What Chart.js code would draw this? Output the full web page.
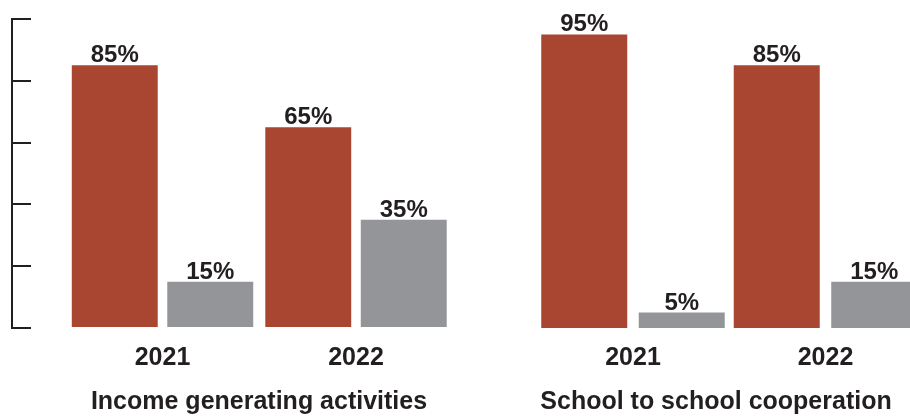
<!DOCTYPE html>
<html>
<head>
<meta charset="utf-8">
<script src="https://cdn.jsdelivr.net/npm/chart.js@4/dist/chart.umd.min.js"></script>
<style>
  html, body { margin: 0; padding: 0; background: #fff; }
  #wrap { position: relative; width: 910px; height: 416px; overflow: hidden; }
  .panel { position: absolute; top: 0; height: 416px; }
  #left-panel { left: 0; width: 518px; }
  #right-panel { left: 522px; width: 388px; }
</style>
</head>
<body>
<div id="wrap">
  <div class="panel" id="left-panel"><canvas id="incomeChart"></canvas></div>
  <div class="panel" id="right-panel"><canvas id="schoolChart"></canvas></div>
</div>
<script>
const years = ['2021', '2022'];
const incomeRed = [85, 65];
const incomeGrey = [15, 35];
const schoolRed = [95, 85];
const schoolGrey = [5, 15];
const yTicks = [0, 20, 40, 60, 80, 100];
const panelTitles = ['Income generating activities', 'School to school cooperation'];

const RED = '#A84631';
const GREY = '#949599';
const INK = '#231F20';
const FONT = "'Liberation Sans', Arial, sans-serif";

// writes the percentage above each bar
const valueLabels = {
    id: 'valueLabels',
    afterDatasetsDraw(chart) {
        const ctx = chart.ctx;
        ctx.save();
        ctx.fillStyle = INK;
        ctx.font = `bold 24px ${FONT}`;
        ctx.textAlign = 'center';
        ctx.textBaseline = 'alphabetic';
        chart.data.datasets.forEach((ds, i) => {
            chart.getDatasetMeta(i).data.forEach((bar, j) => {
                ctx.fillText(ds.data[j] + '%', bar.x, bar.y - 3);
            });
        });
        ctx.restore();
    }
};

function makeChart(id, red, grey, title, opts) {
    const ctx = document.getElementById(id).getContext('2d');
    return new Chart(ctx, {
        type: 'bar',
        data: {
            labels: years,
            datasets: [
                { data: red, backgroundColor: RED },
                { data: grey, backgroundColor: GREY }
            ]
        },
        options: {
            responsive: true,
            maintainAspectRatio: false,
            animation: false,
            layout: { padding: { top: 19, left: 0, right: 0, bottom: 0 } },
            categoryPercentage: opts.catPct,
            barPercentage: opts.barPct,
            plugins: {
                legend: { display: false },
                tooltip: { enabled: false },
                title: {
                    display: true,
                    position: 'bottom',
                    text: title,
                    color: INK,
                    font: { family: FONT, size: 25, weight: 'bold', lineHeight: 1.1 },
                    padding: { top: 8.5, bottom: 0 }
                }
            },
            scales: {
                x: {
                    type: 'linear',
                    offset: false,
                    min: opts.xMin,
                    max: opts.xMax,
                    afterBuildTicks: (scale) => {
                        scale.ticks = years.map(y => ({ value: Number(y) }));
                    },
                    ticks: {
                        color: INK,
                        font: { family: FONT, size: 25, weight: 'bold' },
                        padding: 7,
                        maxRotation: 0,
                        callback: (v) => String(v)
                    },
                    grid: { display: false, offset: false },
                    border: { display: false }
                },
                y: {
                    display: opts.showAxis,
                    min: 0,
                    max: 100,
                    afterBuildTicks: (scale) => {
                        scale.ticks = yTicks.map(v => ({ value: v }));
                    },
                    // bracket-style axis: line at the left edge, ticks pointing inwards
                    afterFit: (scale) => { scale.width = opts.showAxis ? 12 : 0; },
                    ticks: { display: false },
                    grid: {
                        drawOnChartArea: false,
                        drawTicks: true,
                        tickLength: -19,
                        color: INK,
                        lineWidth: 2
                    },
                    border: { display: true, color: INK, width: 2 }
                }
            }
        },
        plugins: [valueLabels]
    });
}

// x range chosen so each year group sits under its own title
makeChart('incomeChart', incomeRed, incomeGrey, panelTitles[0], {
    showAxis: true, xMin: 2020.2222, xMax: 2022.8372, catPct: 0.987, barPct: 0.9
});
makeChart('schoolChart', schoolRed, schoolGrey, panelTitles[1], {
    showAxis: false, xMin: 2020.4234, xMax: 2022.4390, catPct: 1.013, barPct: 0.882
});
</script>
</body>
</html>
